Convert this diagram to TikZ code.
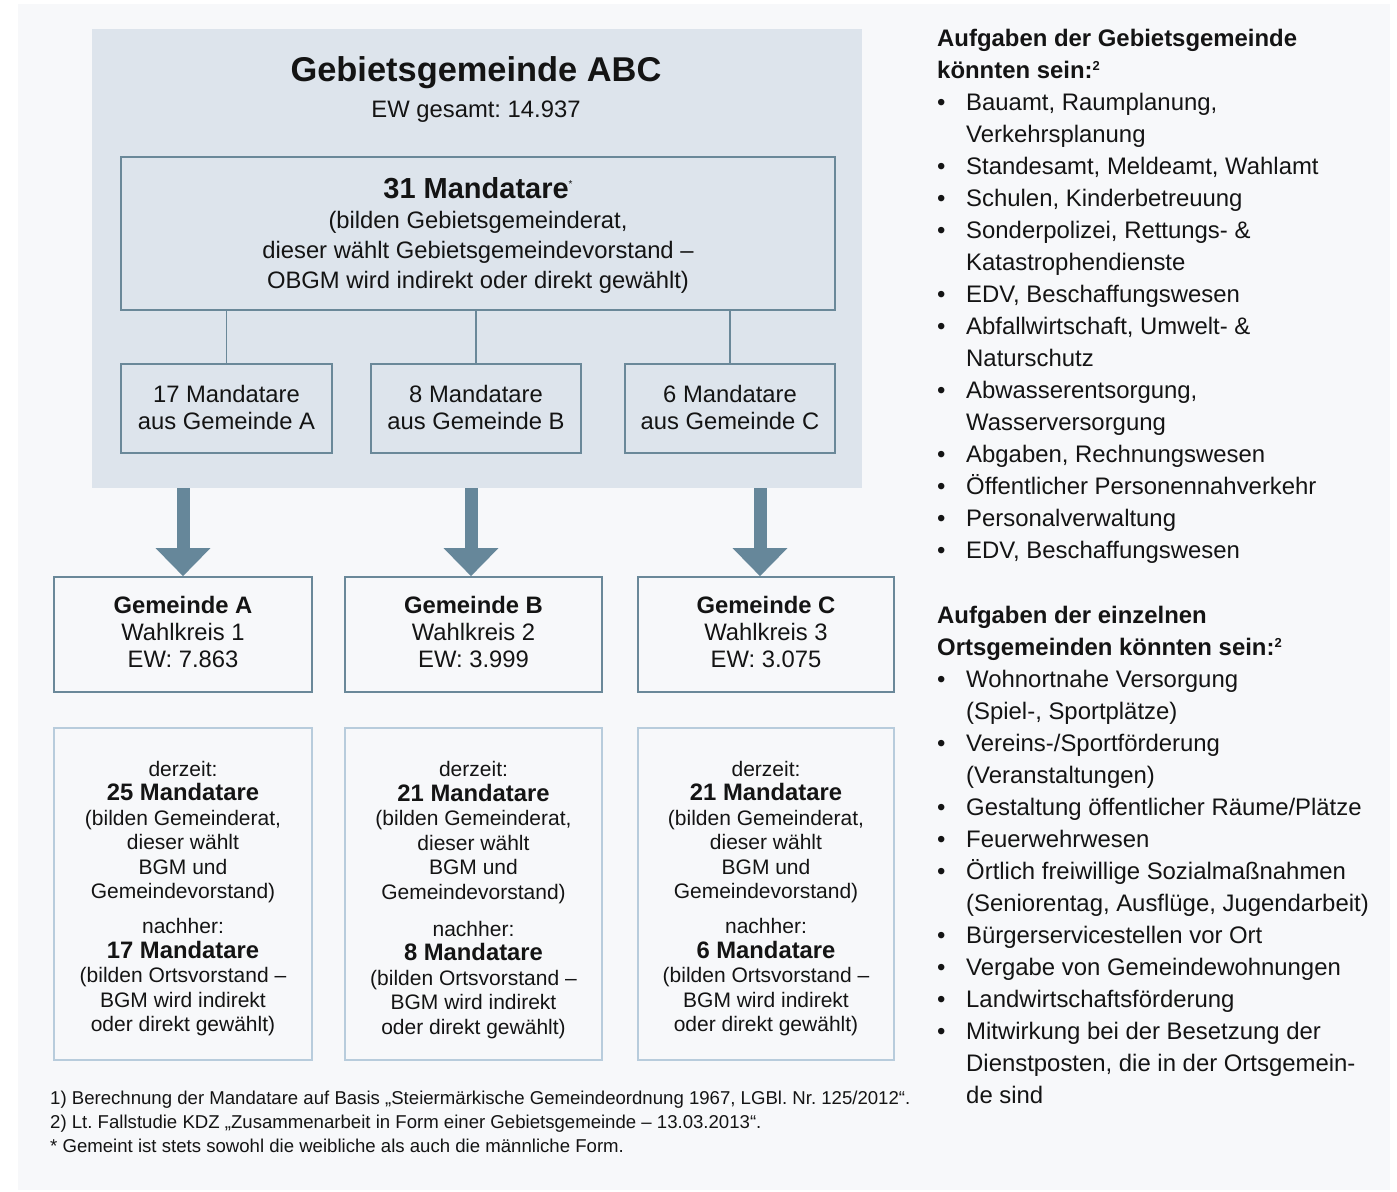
\documentclass[tikz,border=0pt]{standalone}
\usepackage{fontspec}
\setmainfont{Liberation Sans}
\usetikzlibrary{arrows.meta}
\frenchspacing
\definecolor{bgpanel}{HTML}{F7F8FA}
\definecolor{bluepanel}{HTML}{DDE4EC}
\definecolor{frame}{HTML}{6A8899}
\definecolor{arrowc}{HTML}{66879A}
\definecolor{lightframe}{HTML}{B8CCDC}
\definecolor{ink}{HTML}{141414}
\newcommand{\lbul}{\makebox[29pt][l]{•}}
\newcommand{\lind}{\hspace*{29pt}}
\newcommand{\supn}{{\fontsize{13}{13}\selectfont\raisebox{8.5pt}{2}}}
\begin{document}
\begin{tikzpicture}[x=1pt,y=-1pt,
  frbox/.style={draw=frame, line width=1.6pt, inner sep=0pt, align=center, text=ink},
  ltbox/.style={draw=lightframe, line width=1.6pt, inner sep=0pt, align=center, text=ink},
  bodyfont/.style={font=\fontsize{23.8}{27}\selectfont},
  lowfont/.style={font=\fontsize{21}{24.5}\selectfont},
  listtext/.style={inner sep=0pt, align=left, text=ink, font=\fontsize{23.9}{32}\selectfont},
  conn/.style={draw=frame, line width=1.6pt},
  bigarrow/.style={draw=arrowc, line width=13pt, -{Triangle[width=53pt,length=28pt]}}
]
\useasboundingbox (0,0) rectangle (1397,1191);
\fill[white] (0,0) rectangle (1397,1191);
\fill[bgpanel] (18,4) rectangle (1390,1190);
\fill[bluepanel] (92,29) rectangle (862,488);

% title
\node[anchor=base, inner sep=0pt, text=ink, font=\fontsize{34.4}{40}\selectfont\bfseries] (title) at (476,81) {Gebietsgemeinde ABC};
\node[anchor=base, inner sep=0pt, text=ink, font=\fontsize{23.8}{27}\selectfont] (ewtotal) at (476,117) {EW gesamt: 14.937};

% big mandate box
\node[frbox, font=\fontsize{23.8}{30}\selectfont, minimum width=714pt, minimum height=153pt] (mand) at (478,233.5)
 {\rule{0pt}{25pt}{\fontsize{29}{30}\selectfont\bfseries 31 Mandatare}{\fontsize{10}{10}\selectfont\raisebox{11pt}{*}}\\
  (bilden Gebietsgemeinderat,\\
  dieser wählt Gebietsgemeindevorstand –\\
  OBGM wird indirekt oder direkt gewählt)};

% small boxes
\node[frbox, bodyfont, minimum width=211pt, minimum height=89pt] (ma) at (226.5,408.5) {17 Mandatare\\aus Gemeinde A\rule[-2pt]{0pt}{2pt}};
\node[frbox, bodyfont, minimum width=210pt, minimum height=89pt] (mb) at (476,408.5) {8 Mandatare\\aus Gemeinde B\rule[-2pt]{0pt}{2pt}};
\node[frbox, bodyfont, minimum width=210pt, minimum height=89pt] (mc) at (730,408.5) {6 Mandatare\\aus Gemeinde C\rule[-2pt]{0pt}{2pt}};

\draw[conn] (mand.south -| ma.north) -- (ma.north);
\draw[conn] (mand.south -| mb.north) -- (mb.north);
\draw[conn] (mand.south -| mc.north) -- (mc.north);

% Gemeinde boxes
\node[frbox, bodyfont, minimum width=258pt, minimum height=115pt] (ga) at (183,634.5) {{\bfseries Gemeinde A}\\Wahlkreis 1\\EW: 7.863\rule[-5pt]{0pt}{5pt}};
\node[frbox, bodyfont, minimum width=257pt, minimum height=115pt] (gb) at (473.5,634.5) {{\bfseries Gemeinde B}\\Wahlkreis 2\\EW: 3.999\rule[-5pt]{0pt}{5pt}};
\node[frbox, bodyfont, minimum width=256pt, minimum height=115pt] (gc) at (766,634.5) {{\bfseries Gemeinde C}\\Wahlkreis 3\\EW: 3.075\rule[-5pt]{0pt}{5pt}};

% arrows
\coordinate (arrA) at (183,488);
\coordinate (arrB) at (471,488);
\coordinate (arrC) at (760,488);
\draw[bigarrow] (arrA) -- (arrA |- ga.north);
\draw[bigarrow] (arrB) -- (arrB |- gb.north);
\draw[bigarrow] (arrC) -- (arrC |- gc.north);

% lower boxes
\node[ltbox, lowfont, minimum width=258pt, minimum height=332pt] (la) at (183,894)
 {\rule{0pt}{24pt}derzeit:\\
  {\bfseries\fontsize{23.8}{24.5}\selectfont 25 Mandatare}\\
  (bilden Gemeinderat,\\
  dieser wählt\\
  BGM und\\
  Gemeindevorstand)\\[10.5pt]
  nachher:\\
  {\bfseries\fontsize{23.8}{24.5}\selectfont 17 Mandatare}\\
  (bilden Ortsvorstand –\\
  BGM wird indirekt\\
  oder direkt gewählt)};
\node[ltbox, lowfont, minimum width=257pt, minimum height=332pt] (lb) at (473.5,894)
 {\rule{0pt}{27pt}derzeit:\\
  {\bfseries\fontsize{23.8}{24.5}\selectfont 21 Mandatare}\\
  (bilden Gemeinderat,\\
  dieser wählt\\
  BGM und\\
  Gemeindevorstand)\\[12.5pt]
  nachher:\\
  {\bfseries\fontsize{23.8}{24.5}\selectfont 8 Mandatare}\\
  (bilden Ortsvorstand –\\
  BGM wird indirekt\\
  oder direkt gewählt)};
\node[ltbox, lowfont, minimum width=256pt, minimum height=332pt] (lc) at (766,894)
 {\rule{0pt}{24pt}derzeit:\\
  {\bfseries\fontsize{23.8}{24.5}\selectfont 21 Mandatare}\\
  (bilden Gemeinderat,\\
  dieser wählt\\
  BGM und\\
  Gemeindevorstand)\\[10.5pt]
  nachher:\\
  {\bfseries\fontsize{23.8}{24.5}\selectfont 6 Mandatare}\\
  (bilden Ortsvorstand –\\
  BGM wird indirekt\\
  oder direkt gewählt)};

% footnotes
\node[anchor=north west, inner sep=0pt, align=left, text=ink, font=\fontsize{18.6}{24}\selectfont] (notes) at (50,1088.5)
 {\rule{0pt}{16pt}1) Berechnung der Mandatare auf Basis „Steiermärkische Gemeindeordnung 1967, LGBl. Nr. 125/2012“.\\
  2) Lt. Fallstudie KDZ „Zusammenarbeit in Form einer Gebietsgemeinde – 13.03.2013“.\\
  * Gemeint ist stets sowohl die weibliche als auch die männliche Form.};

% right lists
\node[listtext, anchor=north west] (list1) at (937,26.5)
 {\rule{0pt}{20pt}{\bfseries Aufgaben der Gebietsgemeinde}\\
  {\bfseries könnten sein:\supn}\\
  \lbul Bauamt, Raumplanung,\\
  \lind Verkehrsplanung\\
  \lbul Standesamt, Meldeamt, Wahlamt\\
  \lbul Schulen, Kinderbetreuung\\
  \lbul Sonderpolizei, Rettungs- \&\\
  \lind Katastrophendienste\\
  \lbul EDV, Beschaffungswesen\\
  \lbul Abfallwirtschaft, Umwelt- \&\\
  \lind Naturschutz\\
  \lbul Abwasserentsorgung,\\
  \lind Wasserversorgung\\
  \lbul Abgaben, Rechnungswesen\\
  \lbul Öffentlicher Personennahverkehr\\
  \lbul Personalverwaltung\\
  \lbul EDV, Beschaffungswesen};
\node[listtext, anchor=north west] (list2) at (937,603.5)
 {\rule{0pt}{20pt}{\bfseries Aufgaben der einzelnen}\\
  {\bfseries Ortsgemeinden könnten sein:\supn}\\
  \lbul Wohnortnahe Versorgung\\
  \lind (Spiel-, Sportplätze)\\
  \lbul Vereins-/Sportförderung\\
  \lind (Veranstaltungen)\\
  \lbul Gestaltung öffentlicher Räume/Plätze\\
  \lbul Feuerwehrwesen\\
  \lbul Örtlich freiwillige Sozialmaßnahmen\\
  \lind (Seniorentag, Ausflüge, Jugendarbeit)\\
  \lbul Bürgerservicestellen vor Ort\\
  \lbul Vergabe von Gemeindewohnungen\\
  \lbul Landwirtschaftsförderung\\
  \lbul Mitwirkung bei der Besetzung der\\
  \lind Dienstposten, die in der Ortsgemein-\\
  \lind de sind};
\end{tikzpicture}
\end{document}
